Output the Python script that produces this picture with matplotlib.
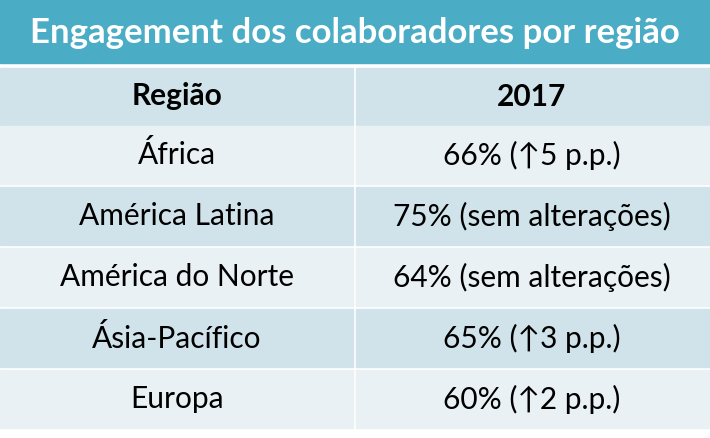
import matplotlib
matplotlib.use("Agg")
import matplotlib.pyplot as plt
from matplotlib.patches import Rectangle

title = "Engagement dos colaboradores por região"
headers = ["Região", "2017"]
regions = ["África", "América Latina", "América do Norte", "Ásia-Pacífico", "Europa"]
values = ["66% (↑5 p.p.)", "75% (sem alterações)", "64% (sem alterações)",
          "65% (↑3 p.p.)", "60% (↑2 p.p.)"]

W, H = 710, 438
fam = ["Lato", "DejaVu Sans"]

fig = plt.figure(figsize=(7.1, 4.38), dpi=100)
ax = fig.add_axes([0, 0, 1, 1])
ax.set_xlim(0, W)
ax.set_ylim(H, 0)
ax.axis("off")

# title bar
ax.add_patch(Rectangle((0, 0), W, 63, color="#4BACC6"))
ax.text(W / 2, 33, title, color="white", fontsize=25, fontweight="bold",
        ha="center", va="center", family=fam)

split = 354
top = 68
row_h = 61
gap = 3
rows = [headers] + list(zip(regions, values))
for i, (a, b) in enumerate(rows):
    y0 = top if i == 0 else 126 + (i - 1) * row_h
    h = 57 if i == 0 else row_h - gap
    color = "#D0E3EA" if i % 2 == 0 else "#E9F1F4"
    ax.add_patch(Rectangle((0, y0), split - 1.5, h, color=color))
    ax.add_patch(Rectangle((split + 1.5, y0), W - split - 1.5, h, color=color))
    weight = "bold" if i == 0 else "normal"
    ax.text(split / 2, y0 + h / 2, a, fontsize=21.5, fontweight=weight,
            ha="center", va="center", family=fam)
    ax.text((split + W) / 2, y0 + h / 2, b, fontsize=21.5, fontweight=weight,
            ha="center", va="center", family=fam)

fig.savefig("out.png", dpi=100)
